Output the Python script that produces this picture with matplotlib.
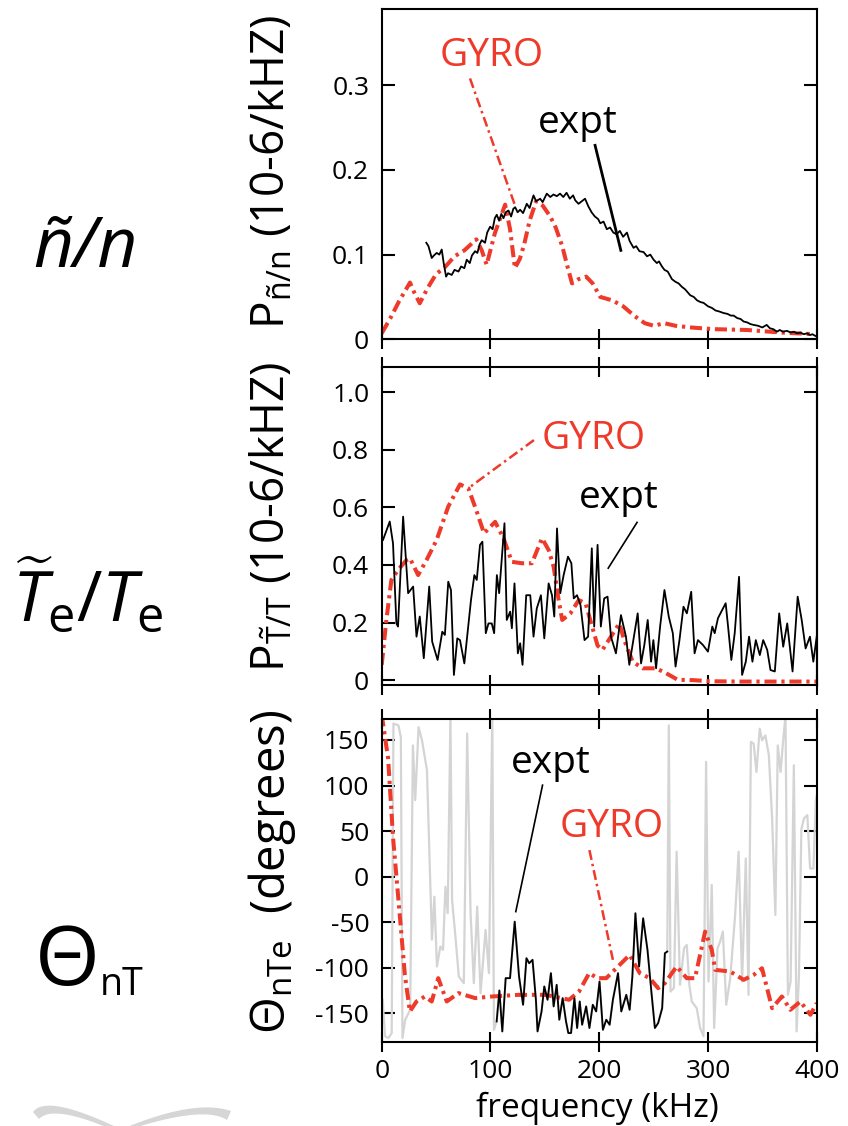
import numpy as np
import matplotlib
matplotlib.use("Agg")
import matplotlib.pyplot as plt
from matplotlib.patches import Polygon

plt.rcParams["font.family"] = ["Open Sans", "DejaVu Sans"]
plt.rcParams["axes.unicode_minus"] = False
plt.rcParams["mathtext.fontset"] = "custom"
plt.rcParams["mathtext.rm"] = "Open Sans"
plt.rcParams["mathtext.it"] = "Open Sans:italic"
plt.rcParams["mathtext.bf"] = "Open Sans:bold"
plt.rcParams["mathtext.sf"] = "Open Sans"

RED = "#ee3a2a"
GREY = "#d4d4d4"

# ---------------- density fluctuation spectrum ----------------
n_expt_f = [41, 43, 46, 48, 50.6, 53, 55.2, 57, 59.2, 61, 64.4, 67, 70.6, 73, 76, 78.2, 81, 83,
            85.9, 88, 90, 92, 95, 97, 99.7, 102, 104, 105.8, 108, 110, 112, 114, 116.6, 119, 121,
            122.7, 125, 127.3, 130, 133.4, 136, 139.6, 142, 145.7, 148, 151.8, 155, 158, 161, 164,
            167, 170, 173, 176, 178, 181, 184, 187, 190, 193, 196, 199, 201, 204, 207, 210, 213,
            216, 219, 222, 225.5, 228, 231.6, 234, 237, 240.8, 244, 247, 250, 253, 255, 257.7, 260,
            263, 266.9, 270, 273, 276, 279, 281, 283.7, 287, 290, 293, 296, 300, 303.7, 307, 310,
            314.4, 318, 321, 323.6, 327, 330, 332.8, 336, 339, 342, 346, 350, 354, 357, 360, 363.5,
            366, 369, 372.7, 376, 379, 382, 385, 388, 391, 394, 396, 398.8]
n_expt_p = [0.114, 0.110, 0.096, 0.099, 0.102, 0.100, 0.106, 0.090, 0.074, 0.078, 0.076, 0.082,
            0.080, 0.086, 0.084, 0.094, 0.090, 0.099, 0.104, 0.102, 0.112, 0.117, 0.114, 0.126,
            0.133, 0.130, 0.143, 0.147, 0.140, 0.148, 0.143, 0.150, 0.152, 0.145, 0.154, 0.156,
            0.150, 0.153, 0.149, 0.160, 0.155, 0.170, 0.163, 0.166, 0.162, 0.172, 0.168, 0.171,
            0.169, 0.172, 0.168, 0.173, 0.166, 0.170, 0.164, 0.160, 0.163, 0.166, 0.157, 0.150,
            0.145, 0.142, 0.137, 0.139, 0.130, 0.132, 0.126, 0.124, 0.128, 0.121, 0.126, 0.116,
            0.108, 0.110, 0.104, 0.103, 0.098, 0.100, 0.094, 0.090, 0.092, 0.086, 0.082, 0.080,
            0.071, 0.068, 0.066, 0.062, 0.059, 0.056, 0.052, 0.050, 0.046, 0.044, 0.043, 0.039,
            0.037, 0.034, 0.033, 0.031, 0.030, 0.028, 0.028, 0.025, 0.024, 0.021, 0.020, 0.018,
            0.017, 0.016, 0.014, 0.017, 0.013, 0.012, 0.009, 0.011, 0.009, 0.010, 0.008, 0.009,
            0.007, 0.008, 0.006, 0.007, 0.005, 0.006, 0.004]
n_gyro_f = [0, 8, 16, 26, 30, 35, 42, 50, 58, 67, 76, 87, 92, 96.5, 104, 113.5, 118, 122.5, 127,
            131, 136, 142, 148, 155, 160, 166, 171, 175, 181, 188, 194, 201, 212, 222, 233, 242,
            250, 260, 270, 284, 305, 336, 367, 398]
n_gyro_p = [0.007, 0.025, 0.045, 0.067, 0.055, 0.0425, 0.060, 0.077, 0.085, 0.098, 0.105, 0.118,
            0.105, 0.088, 0.125, 0.159, 0.130, 0.084, 0.095, 0.112, 0.140, 0.163, 0.158, 0.145,
            0.132, 0.110, 0.085, 0.066, 0.071, 0.074, 0.066, 0.050, 0.046, 0.039, 0.027, 0.019,
            0.016, 0.019, 0.016, 0.014, 0.012, 0.011, 0.008, 0.006]

# ---------------- temperature fluctuation spectrum ----------------
t_expt_f = [1.2, 7.4, 10.4, 13.5, 15, 19.7, 24.3, 28.9, 32, 35, 38.7, 43.7, 46.4, 51.4, 55.7, 58.1,
            61.2, 63.7, 66.4, 69.5, 72, 76, 82.1, 85.2, 87.4, 90.4, 92.6, 95.7, 98.2, 101.2, 103.4,
            105.9, 108, 112.9, 115, 118.1, 119.7, 122.1, 125.2, 127.3, 129.5, 132.9, 136.6, 139.6,
            142.6, 146.4, 149.5, 153.5, 156.6, 158.7, 161.2, 164.2, 167.3, 171.3, 174.4, 176.6,
            179.6, 182.8, 186.5, 189.8, 193.2, 195.4, 198.5, 201.5, 204.6, 207.7, 210.8, 215.4,
            220, 224.6, 227.7, 231.4, 235.4, 238.5, 241.5, 244.6, 247.7, 249.8, 252.3, 256, 260,
            264, 267.7, 270.2, 273.8, 277.5, 280.6, 284.6, 287.7, 290.8, 295.4, 300, 304, 306.2,
            309.2, 312.3, 316.3, 318.5, 321.5, 324.6, 328.6, 331.4, 334.8, 337.8, 340.9, 344,
            347.7, 350.8, 354.5, 357.5, 361.5, 365.5, 369.2, 372.9, 377.8, 382.5, 386.2, 389.8,
            393.8, 396.9, 400]
t_expt_p = [0.487, 0.551, 0.475, 0.197, 0.186, 0.568, 0.302, 0.325, 0.151, 0.221, 0.076, 0.325,
            0.134, 0.070, 0.168, 0.157, 0.342, 0.313, 0.018, 0.145, 0.139, 0.058, 0.278, 0.365,
            0.348, 0.470, 0.481, 0.163, 0.197, 0.197, 0.163, 0.365, 0.302, 0.545, 0.209, 0.238,
            0.180, 0.336, 0.093, 0.128, 0.053, 0.295, 0.295, 0.151, 0.249, 0.295, 0.145, 0.336,
            0.295, 0.221, 0.527, 0.302, 0.365, 0.429, 0.406, 0.284, 0.295, 0.261, 0.139, 0.151,
            0.458, 0.186, 0.470, 0.186, 0.284, 0.290, 0.151, 0.093, 0.226, 0.151, 0.053, 0.139,
            0.232, 0.058, 0.122, 0.209, 0.064, 0.139, 0.041, 0.186, 0.313, 0.220, 0.163, 0.047,
            0.139, 0.255, 0.232, 0.307, 0.093, 0.139, 0.122, 0.099, 0.186, 0.163, 0.215, 0.238,
            0.267, 0.186, 0.070, 0.163, 0.359, 0.018, 0.064, 0.151, 0.064, 0.139, 0.087, 0.139,
            0.105, 0.035, 0.030, 0.232, 0.116, 0.197, 0.030, 0.290, 0.209, 0.110, 0.151, 0.064,
            0.151]
t_gyro_f = [0, 4.3, 8.9, 15, 22.8, 26, 33.5, 41.2, 50.5, 61.2, 72, 79.7, 87, 94.1, 104.3, 112,
            119.7, 129, 138.1, 147.4, 153.5, 158.1, 162.7, 166, 173.5, 181.2, 187.4, 193.5, 198.5,
            203, 210.8, 218.5, 223, 230.8, 240, 252.3, 261.5, 272.3, 286, 301.5, 330, 360, 400]
t_gyro_p = [0.053, 0.209, 0.348, 0.383, 0.417, 0.423, 0.365, 0.417, 0.487, 0.603, 0.680, 0.666,
            0.590, 0.510, 0.550, 0.493, 0.411, 0.406, 0.406, 0.493, 0.452, 0.394, 0.278, 0.209,
            0.232, 0.278, 0.267, 0.186, 0.120, 0.105, 0.151, 0.197, 0.139, 0.064, 0.041, 0.041,
            0.024, 0.001, 0.0, -0.004, -0.005, -0.005, -0.005]

# ---------------- cross phase ----------------
ph_grey_lo_f = [0.9, 3.1, 6.2, 9.2, 10.8, 15.4, 17.6, 19.1, 21.6, 26.2, 28.7, 30.8, 33.9, 37, 41.6,
                46.2, 48.4, 50.8, 53.9, 56.4, 58.6, 60.7, 63.2, 64.7, 67.8, 70.9, 75.5, 78.6, 81.7,
                84.7, 87.8, 90.9, 95.5, 98.6, 101.7, 103.2]
ph_grey_lo = [-135, -175, -177, -171.5, 168, 166, 153, -177, -157, -146, 144, 84, 164, 150, 117,
              -69, -22, -98.5, -76.6, -80.3, -11, -40, 177, -25.5, -65.7, -109.5, -116.8, 157, -40,
              -116.8, -32.8, -127.7, -58.4, -105.8, 177, -168]
ph_expt_f = [105.7, 108.2, 110.9, 114, 118, 122.3, 126.3, 130, 133.1, 135.6, 138.7, 141.8, 143.3,
             147, 149.5, 152.5, 155.6, 158.1, 160.9, 163.3, 166.4, 169.5, 171.6, 174.1, 177.2,
             179.7, 182.1, 184.3, 188, 191, 194.1, 197.2, 200.3, 203.4, 206.5, 209.6, 212.6, 217.3,
             220.3, 224.9, 228, 230.5, 233.3, 236.7, 240.4, 244.4, 248.1, 251.2, 254.2, 257.9,
             260.4, 262.6]
ph_expt = [-158.8, -124.8, -169.7, -111.3, -111.3, -49.3, -109.5, -140.5, -89.4, -94.9, -91.2,
           -135, -169.7, -147.8, -120.4, -135, -105.8, -142.3, -118.6, -156.9, -133.2, -158.8,
           -171.5, -171.5, -133.2, -166, -136.9, -162.4, -142.3, -166, -140.5, -147.8, -115,
           -167.9, -156.9, -162.4, -135, -105.8, -147.8, -129.6, -146, -109.5, -40.1, -98.5,
           -45.6, -80.3, -127.7, -166, -160.6, -144.2, -83.9, -82.1]
ph_grey_hi_f = [264, 265.6, 268.7, 271.2, 274.3, 278, 280.5, 282.9, 285.1, 289.7, 292.8, 295.9,
                298.3, 300.5, 303.5, 305.7, 308.8, 311.2, 313.7, 316.8, 320.5, 325, 328.2, 331.4,
                334.8, 337.3, 339.5, 342, 344.6, 347.6, 349.8, 352.8, 356, 359, 362, 364.2, 366.8,
                369.3, 371.3, 373.5, 376, 379, 381.5, 383.7, 385.9, 388.3, 391.4, 393.9, 397,
                399.2, 400]
ph_grey_hi = [166, -126, -122, 27.4, -118.6, -78.5, -74.8, -118.6, -136.9, -144.2, -166, -175,
              126, -115, -9, -166, -78.5, -71.2, -60.2, -140.5, -111.3, -42, 27.4, -115, 20,
              -129.6, 147.8, 146, 115, 162.4, 149.6, 155, 133.2, 63.9, -42, 144, 115, 151.5, 177,
              -129.6, -115, 122.3, -169.7, -107.7, 52, 63.9, 67.5, 9, 9, 84, 89]
ph_gyro_f = [0, 5.9, 10.5, 16.6, 21.3, 25.9, 32, 39.8, 46, 52, 59.8, 70.6, 86, 101.4, 126, 150.7,
             172.3, 181.5, 190.8, 198.5, 206.5, 215.7, 228, 237.3, 246.5, 254.2, 260.4, 271.2,
             280.5, 288.1, 297.4, 303.5, 306.7, 320.5, 332.8, 342, 349.7, 359, 368, 375.8, 385,
             394.2, 400]
ph_gyro = [178, 129.6, 42, -42, -107.7, -147.8, -136.9, -131.4, -136.9, -111.3, -136.9, -127.7,
           -133.2, -131.4, -129.6, -129.6, -135, -125.9, -105.8, -111.3, -111.3, -100.4, -85.8,
           -105.8, -111.3, -122.3, -116.8, -98.5, -111.3, -111.3, -60.2, -80.3, -102.2, -104,
           -113.1, -107.7, -100.4, -144.2, -131.4, -146, -136.9, -151.5, -138.7]

FIG_W, FIG_H = 848, 1126


def fx(px):
    return px / FIG_W


def fy(py):
    return 1 - py / FIG_H


fig = plt.figure(figsize=(FIG_W / 100, FIG_H / 100), dpi=100)

left, right = 381.7, 816.7
panels = [(9, 339.3), (366.7, 685), (719, 1041.7)]
axes = [fig.add_axes([fx(left), fy(b), fx(right - left), (b - t) / FIG_H]) for t, b in panels]
ax1, ax2, ax3 = axes

gyro_ls = (0, (3.0, 1.2, 0.8, 1.2))
lead_ls = (0, (4.0, 1.6, 1.0, 1.6))
TICK_FS = 19

for ax in axes:
    ax.set_xlim(0, 400)
    ax.set_xticks([0, 100, 200, 300, 400])
    for s in ax.spines.values():
        s.set_linewidth(1.5)
    ax.tick_params(axis="y", direction="in", length=9.5, width=1.5, labelsize=TICK_FS, pad=9)
    ax.tick_params(axis="x", direction="inout", length=15, width=1.5, labelsize=TICK_FS)

# top panel
ax1.plot(n_gyro_f, n_gyro_p, color=RED, lw=2.9, ls=gyro_ls)
ax1.plot(n_expt_f, n_expt_p, color="black", lw=1.3)
ax1.set_ylim(0, 0.39)
ax1.set_yticks([0, 0.1, 0.2, 0.3], ["0", "0.1", "0.2", "0.3"])
ax1.tick_params(axis="y", right=True)
ax1.tick_params(axis="x", labelbottom=False, top=False)
ax1.text(101.5, 0.3226, "GYRO", color=RED, fontsize=28, ha="center", va="baseline")
ax1.plot([81.2, 122.6], [0.308, 0.158], color=RED, lw=1.8, ls=lead_ls)
ax1.text(180, 0.2436, "expt", color="black", fontsize=28, ha="center", va="baseline")
ax1.plot([196.2, 219.9], [0.229, 0.105], color="black", lw=2.0)

# middle panel
ax2.plot(t_gyro_f, t_gyro_p, color=RED, lw=2.9, ls=gyro_ls)
ax2.plot(t_expt_f, t_expt_p, color="black", lw=1.3)
ax2.set_ylim(-0.017, 1.089)
ax2.set_yticks([0, 0.2, 0.4, 0.6, 0.8, 1.0], ["0", "0.2", "0.4", "0.6", "0.8", "1.0"])
ax2.tick_params(axis="x", labelbottom=False, top=True)
sec = ax2.secondary_yaxis("right")
sec.set_yticks([1.0])
sec.tick_params(direction="in", length=9.5, width=1.5, labelright=False)
sec.spines["right"].set_linewidth(1.5)
ax2.text(194.6, 0.802, "GYRO", color=RED, fontsize=28, ha="center", va="baseline")
ax2.plot([140, 81.5], [0.834, 0.672], color=RED, lw=1.8, ls=lead_ls)
ax2.text(217.6, 0.597, "expt", color="black", fontsize=28, ha="center", va="baseline")
ax2.plot([234.8, 208.3], [0.548, 0.389], color="black", lw=1.2)

# bottom panel
grey_f = ph_grey_lo_f + ph_expt_f + ph_grey_hi_f
grey_v = ph_grey_lo + ph_expt + ph_grey_hi
ax3.plot(grey_f, grey_v, color=GREY, lw=1.6)
ax3.plot(ph_gyro_f, ph_gyro, color=RED, lw=2.9, ls=gyro_ls)
ax3.plot(ph_expt_f, ph_expt, color="black", lw=1.3)
ax3.set_ylim(-181, 173)
ax3.set_yticks([-150, -100, -50, 0, 50, 100, 150])
ax3.tick_params(axis="y", right=True)
ax3.tick_params(axis="x", top=True, pad=5)
ax3.set_xticklabels(["0", "100", "200", "300", "400"])
ax3.text(155.6, 113.9, "expt", color="black", fontsize=28, ha="center", va="baseline")
ax3.plot([147.9, 123.3], [100.4, -38.3], color="black", lw=1.2)
ax3.text(211.1, 43.1, "GYRO", color=RED, fontsize=28, ha="center", va="baseline")
ax3.plot([191, 212.6], [29.2, -91.2], color=RED, lw=1.8, ls=lead_ls)

fig.text(fx(597), fy(1108), "frequency (kHz)", fontsize=24, ha="center", va="center")

# axis titles
fig.text(fx(272), fy(172), r"$\mathregular{P_{ñ/n}}$ (10-6/kHZ)", fontsize=33,
         rotation=90, ha="center", va="center")
fig.text(fx(272), fy(517), r"$\mathregular{P_{\tilde{T}/T}}$ (10-6/kHZ)", fontsize=33,
         rotation=90, ha="center", va="center")
fig.text(fx(272), fy(872), r"$\mathregular{\Theta_{nTe}}$  (degrees)", fontsize=34,
         rotation=90, ha="center", va="center")

# quantity names
fig.text(fx(85), fy(267), "ñ/n", fontsize=50, style="italic", ha="center", va="baseline")
fig.text(fx(88), fy(622), r"$\widetilde{T}_{\mathrm{e}}/T_{\mathrm{e}}$", fontsize=50,
         ha="center", va="baseline")
fig.text(fx(100), fy(985), "Θ", fontsize=60, ha="right", va="baseline")
fig.text(fx(100), fy(995), "nT", fontsize=27, ha="left", va="baseline")


# grey wings emblem at the lower left
def bez(p0, p1, p2, n=40):
    t = np.linspace(0, 1, n)[:, None]
    p0, p1, p2 = map(np.asarray, (p0, p1, p2))
    return (1 - t) ** 2 * p0 + 2 * (1 - t) * t * p1 + t ** 2 * p2


def wing(outer, inner):
    pts = np.vstack([bez(*outer), bez(*inner)[::-1]])
    pts = np.column_stack([fx(pts[:, 0]), fy(pts[:, 1])])
    fig.patches.append(Polygon(pts, closed=True, transform=fig.transFigure,
                               facecolor="#d6d6d6", edgecolor="none"))


wing(((33, 1112), (46, 1094), (116, 1127)), ((39, 1119), (52, 1105), (106, 1127)))
wing(((231, 1111), (196, 1099), (127, 1127)), ((227, 1120), (206, 1106), (137, 1127)))

fig.savefig("out.png", dpi=100)
